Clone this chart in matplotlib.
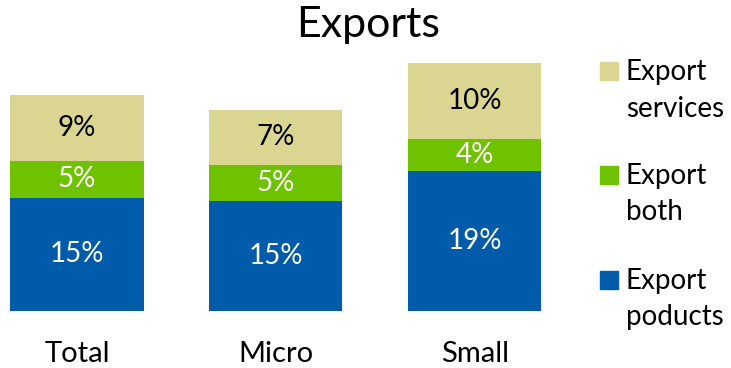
import matplotlib
matplotlib.use('Agg')
import matplotlib.pyplot as plt
from matplotlib.patches import Rectangle

plt.rcParams['font.family'] = ['Lato', 'DejaVu Sans']

# share of firms (%) by size class
categories = ['Total', 'Micro', 'Small']
series_names = ['Export poducts', 'Export both', 'Export services']
legend_labels = ['Export\nservices', 'Export\nboth', 'Export\npoducts']
products = [15.0, 14.6, 18.6]
both = [4.9, 4.8, 4.2]
services = [8.7, 7.2, 10.0]

colors = {'products': '#005BAA', 'both': '#6EC200', 'services': '#DAD591'}

fig = plt.figure(figsize=(7.31, 3.68), dpi=100)
ax = fig.add_axes([0, 1 - 311 / 368, 1, 256.7 / 368])

x = list(range(len(categories)))
width = 0.67
b1 = ax.bar(x, products, width, color=colors['products'])
b2 = ax.bar(x, both, width, bottom=products, color=colors['both'])
bottom3 = [p + b for p, b in zip(products, both)]
b3 = ax.bar(x, services, width, bottom=bottom3, color=colors['services'])

for bars, vals, bots, tc in [(b1, products, [0] * 3, 'white'),
                             (b2, both, products, 'white'),
                             (b3, services, bottom3, 'black')]:
    for xi, v, b in zip(x, vals, bots):
        ax.text(xi, b + v / 2, '%.0f%%' % v, ha='center', va='center',
                color=tc, fontsize=20)

# bar centres sit at 77, 275.5 and 475 px
step = 198.8
ax.set_xlim(-77 / step, (731 - 77) / step)
ax.set_ylim(0, 34)
ax.axis('off')

for xi, c in zip(x, categories):
    ax.text(xi, -51 / 256.7, c, transform=ax.get_xaxis_transform(),
            ha='center', va='baseline', fontsize=21)

fig.text(368 / 731, 1 - 37.5 / 368, 'Exports', ha='center', va='baseline',
         fontsize=31)

# legend drawn by hand: square beside the first line of each two-line label
legend_colors = [colors['services'], colors['both'], colors['products']]
baselines = [80, 183.5, 288.5]
for lab, col, bl in zip(legend_labels, legend_colors, baselines):
    fig.add_artist(Rectangle((600 / 731, 1 - bl / 368), 18 / 731, 18 / 368,
                             transform=fig.transFigure, color=col))
    fig.text(626 / 731, 1 - bl / 368, lab.split('\n')[0], ha='left',
             va='baseline', fontsize=20)
    fig.text(626 / 731, 1 - (bl + 37) / 368, lab.split('\n')[1], ha='left',
             va='baseline', fontsize=20)

fig.savefig('out.png', dpi=100)
